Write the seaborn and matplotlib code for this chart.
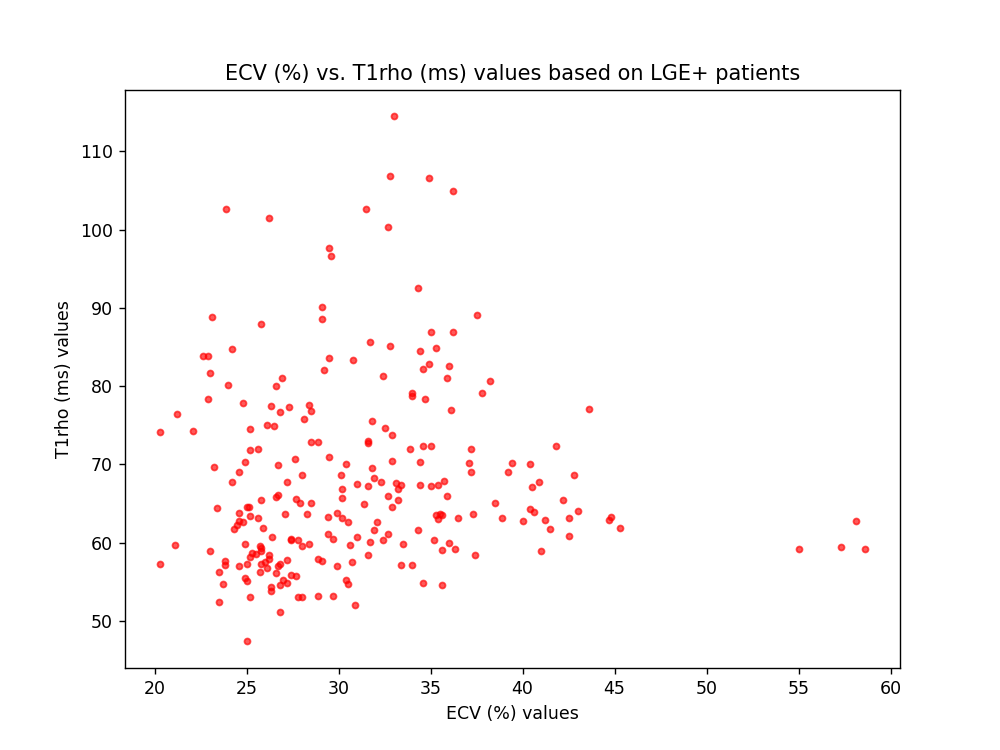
import matplotlib
matplotlib.use("Agg")
import matplotlib.pyplot as plt
import numpy as np
import pandas as pd
import seaborn as sns

# ECV (%) values
ecv = [
    23.9, 26.2, 29.1, 29.1, 23.1, 25.8, 24.2, 22.6, 22.9, 23.0,
    26.9, 29.2, 33.0, 32.8, 34.9, 36.2, 31.5, 32.7, 29.5, 29.6,
    34.3, 37.5, 35.0, 36.2, 31.7, 32.8, 34.4, 35.3, 29.5, 30.8,
    34.9, 34.6, 36.0, 32.4, 35.9, 38.2, 24.0, 26.6, 22.9, 24.8,
    26.3, 27.3, 28.4, 26.8, 28.5, 21.2, 28.1, 20.3, 22.1, 25.2,
    26.1, 26.5, 28.5, 28.9, 25.2, 25.6, 27.6, 24.9, 23.2, 26.7,
    24.6, 28.0, 24.2, 27.2, 26.6, 26.7, 25.8, 27.7, 27.9, 28.5,
    23.4, 25.0, 25.1, 24.6, 25.2, 25.6, 27.1, 28.3, 24.6, 24.8,
    24.5, 24.3, 25.9, 26.4, 27.4, 27.4, 27.8, 28.0, 28.4, 21.1,
    24.9, 25.7, 25.8, 25.8, 25.3, 25.5, 23.0, 26.2, 26.2, 25.2,
    23.8, 23.8, 27.2, 28.9, 29.1, 20.3, 26.8, 26.7, 25.0, 24.6,
    25.8, 26.0, 26.1, 23.5, 25.7, 26.6, 27.4, 27.7, 24.9, 25.0,
    27.0, 27.2, 26.8, 23.7, 26.3, 26.3, 25.2, 27.8, 28.0, 28.9,
    23.5, 26.8, 25.0,
    34.0, 34.0, 37.8, 34.7, 36.1, 31.8, 32.5, 32.9, 31.6, 31.6,
    33.9, 34.6, 35.0, 37.2, 29.5, 30.4, 32.9, 34.4, 31.8, 37.1,
    37.2, 39.4, 39.2, 30.1, 31.9, 32.3, 31.0, 31.6, 30.2, 33.1,
    33.4, 33.2, 34.4, 35.0, 35.4, 35.7, 30.2, 32.7, 33.2, 35.9,
    31.4, 32.9, 38.5, 29.4, 29.9, 30.2, 30.5, 32.1, 35.3, 35.5,
    35.6, 35.4, 36.5, 37.3, 38.9, 29.4, 29.7, 31.9, 32.7, 34.3,
    31.0, 30.6, 31.7, 32.4, 33.5, 35.2, 36.0, 36.3, 35.6, 37.4,
    29.9, 30.7, 31.6, 33.4, 34.0, 30.4, 30.5, 34.6, 35.6, 29.7,
    30.9,
    43.6, 41.8, 40.4, 42.8, 40.9, 40.5, 42.2, 40.4, 40.6, 40.0,
    41.2, 41.5, 42.5, 43.0, 44.7, 44.8, 45.3, 42.5, 41.0,
    58.1, 55.0, 57.3, 58.6,
]

# T1rho (ms) values, same order
t1rho = [
    102.7, 101.5, 90.1, 88.6, 88.9, 87.9, 84.8, 83.9, 83.9, 81.7,
    81.1, 82.1, 114.5, 106.8, 106.6, 104.9, 102.7, 100.4, 97.6, 96.7,
    92.6, 89.1, 86.9, 86.9, 85.7, 85.1, 84.5, 84.9, 83.6, 83.3,
    82.8, 82.2, 82.6, 81.3, 81.0, 80.7, 80.1, 80.0, 78.4, 77.9,
    77.5, 77.3, 77.6, 76.7, 76.8, 76.4, 75.8, 74.1, 74.3, 74.5,
    75.0, 74.9, 72.9, 72.9, 71.8, 72.0, 70.7, 70.3, 69.7, 69.9,
    69.0, 68.7, 67.7, 67.8, 65.9, 66.1, 65.4, 65.6, 65.1, 65.1,
    64.4, 64.6, 64.6, 63.8, 63.4, 63.1, 63.6, 63.6, 62.8, 62.7,
    62.2, 61.8, 61.9, 60.7, 60.5, 60.3, 60.4, 59.6, 59.8, 59.7,
    59.8, 59.6, 59.3, 58.9, 58.7, 58.5, 58.9, 58.4, 57.9, 58.2,
    57.7, 57.1, 57.8, 57.9, 57.6, 57.3, 57.3, 57.0, 57.3, 57.0,
    57.3, 57.5, 56.7, 56.3, 56.3, 56.1, 55.9, 55.7, 55.5, 55.1,
    55.2, 54.8, 54.6, 54.7, 54.3, 53.8, 53.0, 53.1, 53.1, 53.2,
    52.4, 51.2, 47.4,
    79.1, 78.7, 79.1, 78.3, 76.9, 75.6, 74.7, 73.8, 73.0, 72.7,
    72.0, 72.3, 72.3, 72.0, 71.0, 70.1, 70.5, 70.3, 69.6, 70.2,
    69.0, 70.2, 69.0, 68.6, 68.3, 67.8, 67.5, 67.2, 66.8, 67.6,
    67.4, 66.9, 67.4, 67.2, 67.4, 67.9, 65.7, 66.0, 65.5, 66.0,
    64.9, 64.6, 65.1, 63.3, 63.8, 63.1, 62.6, 62.7, 63.5, 63.7,
    63.5, 63.0, 63.2, 63.6, 63.1, 61.1, 60.5, 61.6, 61.1, 61.6,
    60.7, 59.7, 60.1, 60.4, 59.8, 60.4, 60.0, 59.2, 59.0, 58.4,
    57.0, 57.5, 58.4, 57.2, 57.2, 55.2, 54.7, 54.9, 54.6, 53.2,
    52.0,
    77.1, 72.3, 70.1, 68.6, 67.8, 67.1, 65.4, 64.3, 63.9, 62.8,
    62.9, 61.7, 63.1, 64.0, 62.9, 63.3, 61.9, 60.9, 58.9,
    62.8, 59.2, 59.4, 59.2,
]

df = pd.DataFrame({"ECV": ecv, "T1rho": t1rho})

fig, ax = plt.subplots(figsize=(8, 6), dpi=125)
sns.scatterplot(
    data=df,
    x="ECV",
    y="T1rho",
    color="red",
    alpha=0.65,
    s=12,
    edgecolor="red",
    linewidth=1.0,
    ax=ax,
)
ax.set_title("ECV (%) vs. T1rho (ms) values based on LGE+ patients", fontsize=12)
ax.set_xlabel("ECV (%) values")
ax.set_ylabel("T1rho (ms) values")
ax.set_xticks(np.arange(20, 61, 5))
ax.set_yticks(np.arange(50, 111, 10))

plt.savefig("out.png", dpi=125)
